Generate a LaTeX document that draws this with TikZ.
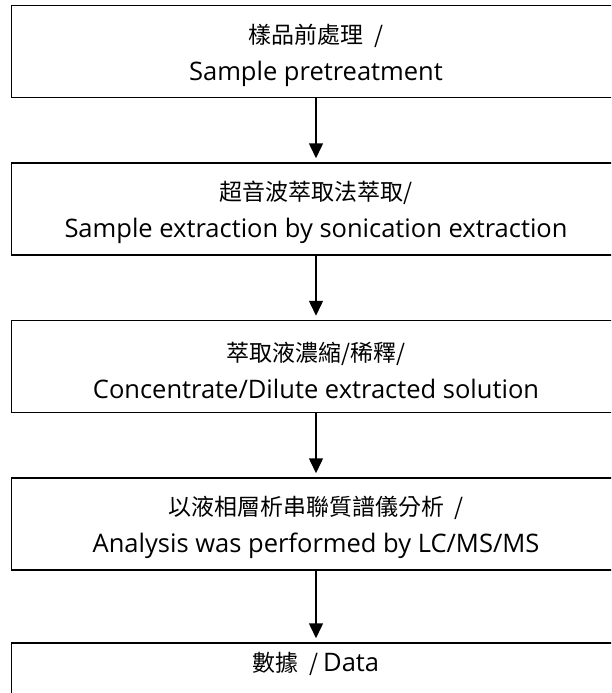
\documentclass[tikz,border=0pt]{standalone}
\usepackage{fontspec}
\setmainfont{Open Sans}
\newfontfamily\cjk{Noto Sans CJK TC}[Scale=0.9]
\newcommand\topstrut{\rule{0pt}{27pt}}
\usetikzlibrary{arrows.meta, positioning}

\begin{document}
\begin{tikzpicture}[node distance=157.5pt,on grid,>={Triangle[width=14pt,length=15pt]},
    every node/.style={font=\fontsize{25.5}{37}\selectfont},
    stage/.style={draw,line width=1.5pt,minimum width=609pt,minimum height=92pt,align=center,inner sep=0pt},
    last stage/.style={stage,text height=28pt,text depth=64pt}]

    \path[use as bounding box,clip] (0,0) rectangle (611pt,-693pt);

    \node[stage] (s_1) at (316pt,-51.5pt) {\topstrut{\cjk 樣品前處理\ \ /}\\Sample pretreatment};
    \node[stage] (s_2) [below=of s_1] {\topstrut{\cjk 超音波萃取法萃取/}\\Sample extraction by sonication extraction};
    \node[stage] (s_3) [below=of s_2] {\topstrut{\cjk 萃取液濃縮/稀釋/}\\Concentrate/Dilute extracted solution};
    \node[stage] (s_4) [below=of s_3] {\topstrut{\cjk 以液相層析串聯質譜儀分析\ \ /}\\Analysis was performed by LC/MS/MS};
    \node[last stage] (s_5) [below=165pt of s_4] {{\cjk 數據\ \ / }Data};

    \path[->,line width=1.5pt,shorten >=4pt] (s_1) edge (s_2)
                    (s_2) edge (s_3)
                    (s_3) edge (s_4)
                    (s_4) edge (s_5);
\end{tikzpicture}
\end{document}
